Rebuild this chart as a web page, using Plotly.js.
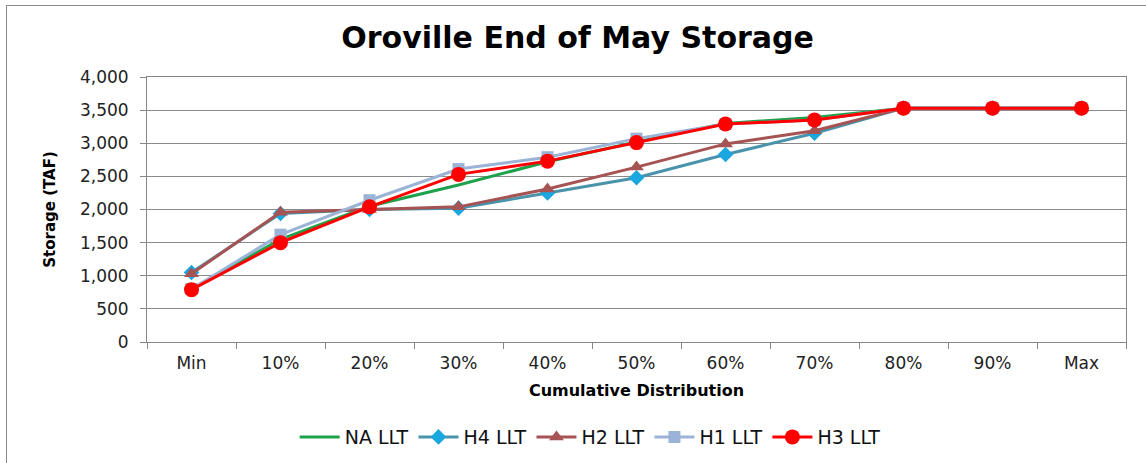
<!DOCTYPE html>
<html>
<head>
<meta charset="utf-8">
<script src="https://cdn.plot.ly/plotly-3.0.1.min.js"></script>
<style>
html,body{margin:0;padding:0;background:#fff;}
#wrap{position:relative;width:1146px;height:463px;}
#chart{width:1146px;height:463px;}
#frame{position:absolute;left:6px;top:5px;width:1142px;height:460px;border:1px solid #8c8c8c;box-sizing:border-box;pointer-events:none;}
</style>
</head>
<body>
<div id="wrap"><div id="chart"></div><div id="frame"></div></div>
<script>
const categories = ["Min","10%","20%","30%","40%","50%","60%","70%","80%","90%","Max"];
const naLLT = [800, 1550, 2050, 2370, 2720, 3020, 3300, 3390, 3530, 3530, 3530];
const h4LLT = [1050, 1940, 2000, 2020, 2250, 2480, 2830, 3150, 3530, 3530, 3530];
const h2LLT = [1030, 1960, 2000, 2040, 2310, 2640, 2990, 3190, 3530, 3530, 3530];
const h1LLT = [800, 1620, 2140, 2610, 2790, 3070, 3290, 3350, 3530, 3530, 3530];
const h3LLT = [790, 1500, 2040, 2530, 2730, 3010, 3290, 3350, 3530, 3530, 3530];
const yTicks = [0,500,1000,1500,2000,2500,3000,3500,4000];

const font = "'DejaVu Sans', 'Liberation Sans', sans-serif";
const traces = [
  {name:"NA LLT", x:categories, y:naLLT, mode:"lines", line:{color:"#1ea14b", width:3}},
  {name:"H4 LLT", x:categories, y:h4LLT, mode:"lines+markers", line:{color:"#4a93ab", width:3},
   marker:{symbol:"diamond", size:12, color:"#1aa7e0"}},
  {name:"H2 LLT", x:categories, y:h2LLT, mode:"lines+markers", line:{color:"#a65353", width:3},
   marker:{symbol:"triangle-up", size:13, color:"#a65353"}},
  {name:"H1 LLT", x:categories, y:h1LLT, mode:"lines+markers", line:{color:"#9ab3d6", width:3},
   marker:{symbol:"square", size:12, color:"#9ab3d6"}},
  {name:"H3 LLT", x:categories, y:h3LLT, mode:"lines+markers", line:{color:"#ff0000", width:3},
   marker:{symbol:"circle", size:15, color:"#ff0000"}}
];

const layout = {
  width:1146, height:463,
  margin:{l:147, r:20, t:77, b:121},
  paper_bgcolor:"#ffffff", plot_bgcolor:"#ffffff",
  font:{family:font, color:"#1a1a1a", size:16},
  title:{text:"<b>Oroville End of May Storage</b>", font:{family:font, size:30, color:"#000"},
         x:0.504, xanchor:"center", xref:"container", y:0.918, yanchor:"middle", yref:"container"},
  xaxis:{
    type:"category", range:[-0.5,10.5], tickson:"boundaries", ticks:"outside", ticklen:6, tickcolor:"#868686",
    showline:true, linecolor:"#868686", linewidth:1, mirror:true,
    showgrid:false, zeroline:false, ticklabelstandoff:6,
    tickfont:{family:font, size:17, color:"#222"},
    title:{text:"<b>Cumulative Distribution</b>", font:{family:font, size:16, color:"#000"}, standoff:12}
  },
  yaxis:{
    range:[0,4000], tickvals:yTicks, ticktext:yTicks.map(v=>v.toLocaleString("en-US")),
    ticks:"outside", ticklen:6, tickcolor:"#868686",
    showline:true, linecolor:"#868686", linewidth:1, mirror:true,
    showgrid:true, gridcolor:"#8a8a8a", gridwidth:1, zeroline:false, ticklabelstandoff:8,
    tickfont:{family:font, size:17, color:"#222"},
    title:{text:"<b>Storage (TAF)</b>", font:{family:font, size:15, color:"#000"}, standoff:20}
  },
  legend:{orientation:"h", xref:"container", yref:"container", x:0.515, xanchor:"center",
          y:0.056, yanchor:"middle", font:{family:font, size:19, color:"#111"},
          itemwidth:40, tracegroupgap:0},
  showlegend:true
};
Plotly.newPlot("chart", traces, layout, {displayModeBar:false, staticPlot:true});
</script>
</body>
</html>
